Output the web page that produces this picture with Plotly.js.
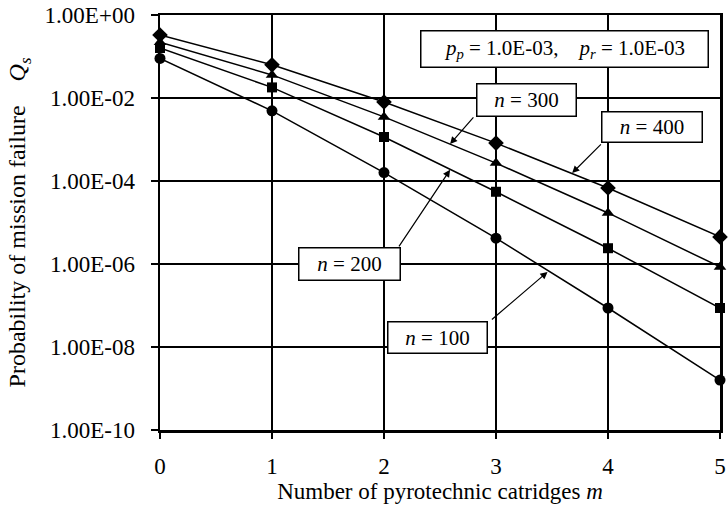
<!DOCTYPE html>
<html>
<head>
<meta charset="utf-8">
<script src="https://cdn.plot.ly/plotly-3.0.1.min.js"></script>
<style>html,body{margin:0;padding:0;background:#fff}#chart{width:728px;height:507px}</style>
</head>
<body>
<div id="chart"></div>
<script>
const m = [0, 1, 2, 3, 4, 5];
const n400 = [0.33, 0.063, 0.0080, 8.2e-4, 6.8e-5, 4.5e-6];
const n300 = [0.22, 0.036, 0.0035, 2.7e-4, 1.7e-5, 8.5e-7];
const n200 = [0.16, 0.018, 0.00115, 5.5e-5, 2.4e-6, 8.7e-8];
const n100 = [0.09, 0.0049, 1.6e-4, 4.2e-6, 8.7e-8, 1.6e-9];
const yTickVals = [1, 1e-2, 1e-4, 1e-6, 1e-8, 1e-10];
const yTickText = ["1.00E+00", "1.00E-02", "1.00E-04", "1.00E-06", "1.00E-08", "1.00E-10"];

const font = "Liberation Serif";
function tr(y, sym, size) {
  return {x: m, y: y, type: 'scatter', mode: 'lines+markers',
    line: {color: '#000', width: 1.5},
    marker: {symbol: sym, size: size, color: '#000'}, showlegend: false, cliponaxis: false};
}
const data = [
  tr(n400, 'diamond', 12),
  tr(n300, 'triangle-up', 11),
  tr(n200, 'square', 10),
  tr(n100, 'circle', 11)
];

function box(text, x, y, w, h) {
  return {x: x, y: y, xref: 'x', yref: 'y', text: text, showarrow: false,
    font: {family: font, size: 21, color: '#000'}, bgcolor: '#fff',
    bordercolor: '#000', borderwidth: 1.5, borderpad: 0, width: w, height: h,
    xanchor: 'center', yanchor: 'middle', align: 'center'};
}
function arrow(x, y, ax, ay) {
  return {x: x, y: y, xref: 'x', yref: 'y', ax: ax, ay: ay, axref: 'x', ayref: 'y',
    text: '', showarrow: true, arrowhead: 2, arrowsize: 1.2, arrowwidth: 1.2, arrowcolor: '#000', standoff: 0, startstandoff: 0};
}

const layout = {
  width: 728, height: 507,
  margin: {l: 160, r: 8, t: 15, b: 77},
  paper_bgcolor: '#fff', plot_bgcolor: '#fff',
  font: {family: font, size: 23, color: '#000'},
  xaxis: {
    range: [0, 5], tickvals: m, ticks: 'outside', ticklen: 6, tickcolor: '#000', tickwidth: 1.5,
    ticklabelstandoff: 8,
    showgrid: true, gridcolor: '#000', gridwidth: 1.2, zeroline: false,
    showline: true, linecolor: '#000', linewidth: 2.5, mirror: true,
    tickfont: {family: font, size: 23},
    title: {text: 'Number of pyrotechnic catridges <i>m</i>', font: {family: font, size: 23}, standoff: 0}
  },
  yaxis: {
    type: 'log', range: [-10, 0], tickvals: yTickVals, ticktext: yTickText,
    ticks: 'outside', ticklen: 7, tickcolor: '#000', tickwidth: 1.5,
    ticklabelstandoff: 11,
    showgrid: true, gridcolor: '#000', gridwidth: 1.2, zeroline: false,
    showline: true, linecolor: '#000', linewidth: 2.5, mirror: true,
    tickfont: {family: font, size: 23},
    title: {text: 'Probability of mission failure&nbsp;&nbsp;&nbsp; <i>Q<sub>s</sub></i>', font: {family: font, size: 24}, standoff: 12}
  },
  annotations: [
    arrow(2.59, -3.11, 2.81, -2.43),
    arrow(3.68, -3.81, 3.95, -3.08),
    arrow(2.59, -3.73, 2.125, -5.61),
    arrow(3.46, -6.19, 2.95, -7.37),
    box('<i>p<sub>p</sub></i> = 1.0E-03,&nbsp;&nbsp;&nbsp; <i>p<sub>r</sub></i> = 1.0E-03', 3.616, -0.83, 286, 35),
    box('<i>n</i> = 300', 3.27, -2.04, 98, 31),
    box('<i>n</i> = 400', 4.39, -2.71, 99, 29),
    box('<i>n</i> = 200', 1.6875, -6.01, 100, 31),
    box('<i>n</i> = 100', 2.48, -7.78, 98, 30)
  ]
};
Plotly.newPlot('chart', data, layout, {displayModeBar: false, staticPlot: true});
</script>
</body>
</html>
